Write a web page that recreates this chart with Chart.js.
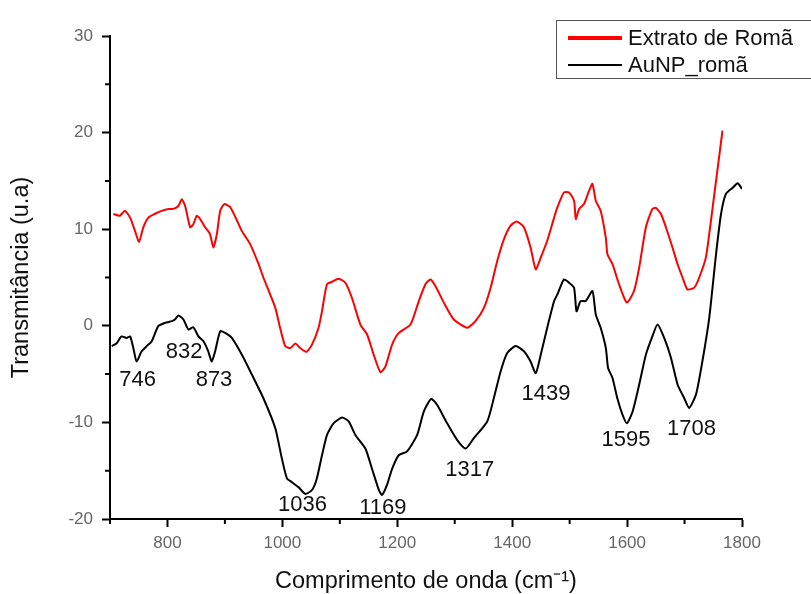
<!DOCTYPE html>
<html><head><meta charset="utf-8">
<script src="https://cdn.jsdelivr.net/npm/chart.js@4.4.1/dist/chart.umd.min.js"></script>
<style>html,body{margin:0;padding:0;background:#fff;} #wrap{position:relative;width:811px;height:594px;}</style>
</head><body><div id="wrap"><canvas id="c"></canvas></div>
<script>
const seriesNames = ['Extrato de Romã', 'AuNP_romã'];
const redWavenumbers = [705.8,717,726,735,743.6,750.6,758,766.8,778.5,790,801.6,810,819,825,830.8,839.5,845,851,857,865.6,874,880,886,891.8,899,909,921,929.6,944,958.5,967,987.7,996,1005,1014,1022.5,1031,1041.7,1051.5,1063,1069,1077.6,1086.5,1098,1109.7,1121,1135.8,1147.5,1159,1170.7,1179.4,1191,1202.6,1223,1237.5,1249,1257.9,1266.6,1281,1298.5,1321.8,1336,1350.8,1362.5,1374,1385.7,1397,1407.8,1420.5,1432,1441,1449.7,1461,1473,1478.6,1490,1499,1507.7,1510.7,1516.5,1525,1533.9,1539.7,1545.5,1554,1563,1565.8,1574.5,1586,1599.6,1612,1621,1632.7,1644,1650,1658.8,1667.6,1679,1687.8,1696.5,1705,1716.9,1725.6,1737,1746,1754.8,1766];
const redValues = [11.57,11.4,11.9,11.2,9.8,8.7,10.2,11.2,11.6,11.9,12.1,12.1,12.4,13.1,12.4,10.2,10.5,11.4,11.05,10.2,9.5,8.1,9.5,11.9,12.6,12.3,10.9,9.8,8.45,6.4,5.0,1.86,-0.2,-2.1,-2.3,-1.84,-2.3,-2.7,-1.95,-0.2,1.52,4.3,4.56,4.88,4.46,2.9,0.13,-0.9,-3.0,-4.8,-4.2,-1.95,-0.74,0.13,2.56,4.3,4.8,4.1,2.4,0.65,-0.2,0.48,1.86,3.94,6.7,8.97,10.35,10.8,10.2,8.1,5.85,7.06,8.8,11.2,12.25,13.8,13.8,12.95,11.05,12.1,12.6,14.0,14.7,12.95,11.9,9.1,7.4,6.4,4.3,2.4,3.6,6.0,10.2,12.1,12.2,11.6,10.2,8.1,6.4,5.0,3.77,3.95,5.0,7.06,10.9,15.0,20.2];
const blackWavenumbers = [703,711.7,720,729,735,740.6,746.4,755,764,772.7,784,795.9,807.6,813,819,827.8,836.5,845,854,862.7,871,877,883,891.8,900.5,912,929.6,947,967,987.7,999,1008,1016.7,1028,1040,1051.6,1060,1069,1077.7,1089,1104,1115.5,1127,1144.5,1156,1168,1173.5,1182,1191,1202.6,1217,1234.6,1246,1259,1269.5,1286.8,1304,1319,1333,1356.6,1368,1380,1391.6,1406,1420.5,1432,1441,1449.7,1461,1473,1478.7,1490,1499,1507.7,1512,1519,1528,1539.7,1545.5,1554,1563,1567,1574.6,1583,1592,1599.6,1609.5,1621,1632.7,1644,1653,1664.6,1676.3,1688,1699.5,1708,1720,1731,1743,1754.8,1763.5,1772,1783.9,1792.5,1800];
const blackValues = [-2.1,-1.8,-1.1,-1.26,-1.1,-2.3,-3.7,-2.64,-2.1,-1.6,-0.04,0.3,0.48,0.65,1.07,0.65,-0.38,-0.15,-1.1,-1.6,-2.64,-3.7,-2.64,-0.56,-0.74,-1.26,-3.0,-5.06,-7.5,-10.6,-13.7,-15.8,-16.2,-16.7,-17.4,-17.0,-15.8,-13.4,-11.3,-10.1,-9.5,-9.9,-11.3,-12.7,-14.8,-17.0,-17.5,-16.5,-14.8,-13.4,-13.0,-11.3,-8.9,-7.56,-8.2,-10.1,-11.8,-12.7,-11.65,-9.9,-7.5,-4.7,-2.8,-2.1,-2.64,-3.7,-4.9,-3.0,-0.2,2.56,3.25,4.8,4.46,3.94,1.5,2.56,2.56,3.6,1.17,-0.2,-2.3,-4.4,-5.4,-7.5,-9.2,-10.1,-8.9,-6.1,-3.0,-1.1,0.13,-1.26,-3.3,-6.1,-7.5,-8.5,-7.1,-3.7,0.82,7.4,11.57,13.65,14.3,14.75,14.17];
const xTickValues = [800, 1000, 1200, 1400, 1600, 1800];
const xMinorTickValues = [700, 900, 1100, 1300, 1500, 1700];
const yTickValues = [-20, -10, 0, 10, 20, 30];
const yMinorTickValues = [-15, -5, 5, 15, 25];
const peakLabels = ['746', '832', '873', '1036', '1169', '1317', '1439', '1595', '1708'];
const peakLabelX = [748, 829, 881, 1035, 1175, 1326, 1459, 1598, 1712];
const peakLabelY = [-5.6, -2.7, -5.6, -18.5, -18.9, -14.9, -7.1, -11.8, -10.7];

const FONT = "'Liberation Sans', Arial, Helvetica, sans-serif";
const seriesColors = ['#ff0000', '#000000'];
const seriesLegendWidths = [4, 2];

const minorTicksPlugin = {
  id: 'minorTicks',
  afterDraw(chart) {
    const ctx = chart.ctx, xs = chart.scales.x, ys = chart.scales.y;
    ctx.save();
    ctx.strokeStyle = '#000'; ctx.lineWidth = 2;
    ctx.beginPath();
    xMinorTickValues.forEach(v => { const p = xs.getPixelForValue(v); ctx.moveTo(p, xs.top); ctx.lineTo(p, xs.top + 5); });
    yMinorTickValues.forEach(v => { const p = ys.getPixelForValue(v); ctx.moveTo(ys.right, p); ctx.lineTo(ys.right - 5, p); });
    ctx.stroke();
    ctx.restore();
  }
};

const peakLabelPlugin = {
  id: 'peakLabels',
  afterDatasetsDraw(chart) {
    const ctx = chart.ctx, xs = chart.scales.x, ys = chart.scales.y;
    ctx.save();
    ctx.font = '22px ' + FONT; ctx.fillStyle = '#111';
    ctx.textAlign = 'center'; ctx.textBaseline = 'middle';
    peakLabels.forEach((t, i) => ctx.fillText(t, xs.getPixelForValue(peakLabelX[i]), ys.getPixelForValue(peakLabelY[i])));
    ctx.restore();
  }
};

const boxLegendPlugin = {
  id: 'boxLegend',
  afterDraw(chart) {
    const ctx = chart.ctx;
    ctx.save();
    ctx.strokeStyle = '#555'; ctx.lineWidth = 1;
    ctx.strokeRect(556.5, 20.5, 270, 58);
    ctx.font = '22px ' + FONT; ctx.fillStyle = '#111';
    ctx.textAlign = 'left'; ctx.textBaseline = 'middle';
    chart.data.datasets.forEach((ds, i) => {
      const y = 38 + i * 27;
      ctx.strokeStyle = ds.borderColor; ctx.lineWidth = seriesLegendWidths[i];
      ctx.beginPath(); ctx.moveTo(568, y); ctx.lineTo(622, y); ctx.stroke();
      ctx.fillText(ds.label, 628, y + 1);
    });
    ctx.restore();
  }
};

const toPoints = (xs, ys) => xs.map((x, i) => ({ x: x, y: ys[i] }));

new Chart(document.getElementById('c'), {
  type: 'line',
  data: {
    datasets: [
      { label: seriesNames[0], data: toPoints(redWavenumbers, redValues), borderColor: seriesColors[0], borderWidth: 2, pointRadius: 0, tension: 0.2, fill: false },
      { label: seriesNames[1], data: toPoints(blackWavenumbers, blackValues), borderColor: seriesColors[1], borderWidth: 2, pointRadius: 0, tension: 0.2, fill: false }
    ]
  },
  options: {
    responsive: true, maintainAspectRatio: false, animation: false,
    layout: { padding: { left: 0, top: 36, right: 69, bottom: 0 } },
    plugins: { legend: { display: false }, tooltip: { enabled: false } },
    scales: {
      x: {
        type: 'linear', min: 700, max: 1800,
        afterFit(s) { s.height = 75; },
        afterBuildTicks(s) { s.ticks = xTickValues.map(v => ({ value: v })); },
        grid: { display: true, drawOnChartArea: false, drawTicks: true, tickLength: 8, tickWidth: 2, tickColor: '#000' },
        border: { display: true, color: '#000', width: 2 },
        ticks: { color: '#666', font: { family: FONT, size: 17 }, padding: 6, maxRotation: 0, autoSkip: false, callback: v => String(v) },
        title: { display: true, text: 'Comprimento de onda (cm⁻¹)', color: '#111', font: { family: FONT, size: 23.5 }, padding: { top: 0, bottom: -2 } }
      },
      y: {
        min: -20, max: 30,
        afterFit(s) { s.width = 110; },
        afterBuildTicks(s) { s.ticks = yTickValues.map(v => ({ value: v })); },
        grid: { display: true, drawOnChartArea: false, drawTicks: true, tickLength: 8, tickWidth: 2, tickColor: '#000' },
        border: { display: true, color: '#000', width: 2 },
        ticks: { color: '#666', font: { family: FONT, size: 17 }, padding: 9, callback: v => String(v) },
        title: { display: true, text: 'Transmitância (u.a)', color: '#111', font: { family: FONT, size: 23.5 }, padding: { top: 7, bottom: 0 } }
      }
    }
  },
  plugins: [minorTicksPlugin, peakLabelPlugin, boxLegendPlugin]
});
</script>
</body></html>
